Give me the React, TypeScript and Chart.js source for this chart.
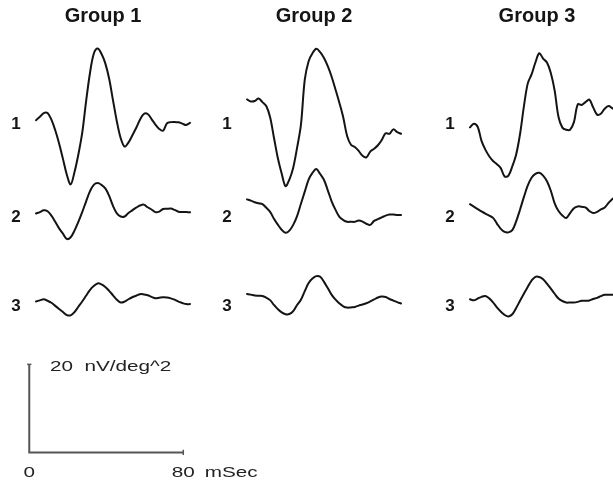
import { useEffect, useRef } from "react";
import { Chart, registerables } from "chart.js";

Chart.register(...registerables);

// ---- data ----
const TIME_MS = [0, 2, 4, 6, 8, 10, 12, 14, 16, 18, 20, 22, 24, 26, 28, 30, 32, 34, 36, 38, 40, 42, 44, 46, 48, 50, 52, 54, 56, 58, 60, 62, 64, 66, 68, 70, 72, 74, 76, 78, 80];
const GROUPS = ["Group 1", "Group 2", "Group 3"];
const ROWS = ["1", "2", "3"];

// nV/deg^2, relative to each row's baseline
const G1_R1 = [0, 0.75, 1.6, 1.6, 0.1, -2.3, -5.3, -8.8, -12.4, -14.6, -11.8, -7.8, -2.9, 4.2, 10.6, 15.1, 16.3, 15.1, 12.9, 9.4, 4.5, -0.3, -4.1, -6.0, -5.1, -3.5, -1.8, 0.1, 1.4, 1.4, 0.25, -1.0, -2.0, -2.4, -0.75, -0.45, -0.4, -0.5, -0.8, -1.1, -0.6];
const G1_R2 = [-0.1, 0.2, 0.6, 0.4, -0.6, -2.0, -3.5, -4.7, -5.9, -5.5, -4.0, -2.0, 0.2, 2.6, 4.9, 6.4, 6.8, 6.4, 5.6, 3.9, 1.6, -0.1, -0.8, -0.8, 0, 0.6, 1.2, 1.7, 1.9, 1.3, 0.8, 0.2, 0.3, 0.9, 0.95, 1.0, 0.7, 0.3, 0.25, 0.2, 0.15];
const G1_R3 = [0.1, 0.35, 0.6, 0.25, -0.2, -0.9, -1.6, -2.3, -3.0, -3.05, -2.3, -1.1, 0.1, 1.4, 2.7, 3.6, 4.2, 4.0, 3.4, 2.5, 1.5, 0.5, -0.15, 0.05, 0.6, 1.05, 1.4, 1.75, 1.7, 1.5, 1.15, 0.85, 0.95, 1.05, 1.0, 0.8, 0.5, 0.05, -0.25, -0.5, -0.5];
const G2_R1 = [4.7, 4.25, 4.35, 4.9, 4.1, 3.2, 0.65, -4.0, -8.6, -12.1, -15.0, -13.5, -10.8, -6.3, -1.1, 9.2, 13.4, 15.2, 16.2, 15.45, 14.1, 12.2, 9.8, 6.9, 3.9, 0.6, -3.6, -5.6, -6.1, -7.0, -8.1, -8.45, -7.15, -6.5, -5.7, -4.5, -3.0, -3.1, -2.1, -2.7, -3.1];
const G2_R2 = [3.1, 2.8, 2.45, 2.2, 2.0, 1.2, 0.25, -1.3, -2.65, -3.8, -4.5, -4.0, -2.7, -0.7, 2.1, 4.85, 7.6, 9.1, 10.0, 8.85, 7.5, 5.1, 2.6, 0.7, -0.9, -1.6, -2.0, -2.0, -2.0, -1.7, -1.95, -2.45, -2.7, -1.8, -1.4, -1.0, -0.6, -0.35, -0.35, -0.45, -0.45];
const G2_R3 = [1.8, 1.65, 1.45, 1.4, 1.35, 0.95, 0.4, -0.7, -1.65, -2.4, -2.8, -2.75, -2.1, -0.7, 0.5, 2.45, 4.3, 5.3, 5.85, 5.7, 4.55, 3.1, 1.6, 0.5, -0.35, -1.0, -1.3, -1.25, -1.15, -0.85, -0.6, -0.3, 0.1, 0.55, 1.0, 1.2, 1.1, 0.65, 0.3, -0.05, -0.35];
const G3_R1 = [-1.65, -0.8, -1.5, -4.7, -6.7, -8.2, -9.3, -10.0, -10.9, -12.8, -12.6, -10.5, -7.8, -3.2, 3.05, 8.3, 10.4, 13.1, 15.2, 14.0, 13.1, 10.7, 6.7, 0.7, -1.7, -2.2, -2.2, -0.45, 3.6, 3.45, 4.1, 4.65, 2.9, 1.25, 1.45, 2.6, 3.2, 2.7, 2.3, 2.0, 2.0];
const G3_R2 = [2.0, 1.45, 0.9, 0.35, -0.15, -0.6, -1.1, -2.4, -3.6, -4.3, -4.4, -3.9, -1.9, 0.75, 3.6, 6.2, 8.0, 8.9, 9.15, 8.5, 7.2, 5.05, 2.2, 0.45, -0.55, -1.15, -0.05, 1.1, 1.5, 1.4, 1.3, 0.45, 0, 0.25, 0.8, 1.25, 2.3, 3.2, 3.8, 4.2, 4.5];
const G3_R3 = [0.6, 0.35, 0.75, 1.15, 1.35, 0.8, -0.1, -1.25, -2.2, -2.95, -3.3, -2.8, -1.4, 0.25, 1.85, 3.4, 4.85, 5.7, 5.65, 5.15, 4.15, 3.0, 1.85, 0.75, 0.2, -0.15, -0.15, -0.15, 0, 0.25, 0.25, 0.3, 0.65, 0.9, 1.3, 1.6, 1.6, 1.6, 1.6, 1.5, 1.5];

const TRACES = [
  [G1_R1, G1_R2, G1_R3],
  [G2_R1, G2_R2, G2_R3],
  [G3_R1, G3_R2, G3_R3],
];

const SCALE_BAR_UNITS = 20;
const SCALE_BAR_MS = 80;
const SCALE_Y_LABEL = "20  nV/deg^2";
const SCALE_X_START = "0";
const SCALE_X_END = "80";
const SCALE_X_UNIT = "mSec";

// ---- layout (axis units: ms horizontally, nV/deg^2 vertically) ----
const X_MIN = -15.2;
const X_MAX = 303.2;
const Y_MIN = -6.5;
const Y_MAX = 102.8;
const GROUP_X = [3.5, 113.1, 228.9];
const ROW_Y = [75.5, 54.4, 34.2];
const TITLE_DX = 34.8;
const TITLE_Y = 97.8;
const ROW_LABEL_DX = -10.4;
const ROW_LABEL_DY = -2.1;

const textPlugin = {
  id: "figureText",
  afterDatasetsDraw(chart: any) {
    const { ctx } = chart;
    const xs = chart.scales.x;
    const ys = chart.scales.y;
    const px = (v: number) => xs.getPixelForValue(v);
    const py = (v: number) => ys.getPixelForValue(v);
    ctx.save();
    ctx.fillStyle = "#151515";
    ctx.textBaseline = "alphabetic";

    // group titles
    ctx.textAlign = "center";
    ctx.font = 'bold 20px "Liberation Sans", Arial, Helvetica, sans-serif';
    GROUPS.forEach((g, gi) => {
      ctx.fillText(g, px(GROUP_X[gi] + TITLE_DX), py(TITLE_Y));
    });

    // row labels
    ctx.font = 'bold 17px "Liberation Sans", Arial, Helvetica, sans-serif';
    GROUPS.forEach((_, gi) => {
      ROWS.forEach((r, ri) => {
        ctx.fillText(r, px(GROUP_X[gi] + ROW_LABEL_DX), py(ROW_Y[ri] + ROW_LABEL_DY));
      });
    });

    // scale bar labels (wide lettering)
    ctx.fillStyle = "#222";
    ctx.font = '15px "Liberation Sans", Arial, Helvetica, sans-serif';
    const stretch = 1.38;
    const drawWide = (txt: string, x: number, y: number, align: "left" | "center") => {
      ctx.save();
      ctx.translate(x, y);
      ctx.scale(stretch, 1);
      ctx.textAlign = align;
      ctx.fillText(txt, 0, 0);
      ctx.restore();
    };
    drawWide(SCALE_Y_LABEL, px(10.75), py(18.5), "left");
    drawWide(SCALE_X_START, px(0), py(-5.5), "center");
    drawWide(SCALE_X_END, px(SCALE_BAR_MS), py(-5.5), "center");
    const w80 = ctx.measureText(SCALE_X_END).width * stretch;
    drawWide(SCALE_X_UNIT, px(SCALE_BAR_MS) + w80 / 2 + 10, py(-5.5), "left");
    ctx.restore();
  },
};

export default function App() {
  const ref = useRef<HTMLCanvasElement>(null);

  useEffect(() => {
    const canvas = ref.current;
    if (!canvas) return;
    const datasets: any[] = [];
    TRACES.forEach((group, gi) => {
      group.forEach((vals, ri) => {
        datasets.push({
          label: `${GROUPS[gi]} - ${ROWS[ri]}`,
          data: vals.map((v, k) => ({ x: GROUP_X[gi] + TIME_MS[k], y: ROW_Y[ri] + v })),
          borderColor: "#141414",
          borderWidth: 2,
          pointRadius: 0,
          tension: 0.35,
          fill: false,
          borderJoinStyle: "round",
          borderCapStyle: "round",
        });
      });
    });
    const barStyle = {
      borderColor: "#555",
      borderWidth: 2,
      pointRadius: 0,
      tension: 0,
      fill: false,
    };
    datasets.push({
      label: "scale bar",
      data: [
        { x: 0, y: SCALE_BAR_UNITS },
        { x: 0, y: 0 },
        { x: SCALE_BAR_MS, y: 0 },
      ],
      ...barStyle,
    });
    datasets.push({
      label: "scale tick y",
      data: [
        { x: -1.1, y: SCALE_BAR_UNITS },
        { x: 1.1, y: SCALE_BAR_UNITS },
      ],
      ...barStyle,
      borderWidth: 1.5,
    });
    datasets.push({
      label: "scale tick x",
      data: [
        { x: SCALE_BAR_MS, y: -0.6 },
        { x: SCALE_BAR_MS, y: 0.6 },
      ],
      ...barStyle,
      borderWidth: 1.5,
    });

    const chart = new Chart(canvas, {
      type: "line",
      data: { datasets },
      options: {
        animation: false,
        responsive: false,
        devicePixelRatio: 1,
        events: [],
        layout: { padding: 0 },
        scales: {
          x: { type: "linear", display: false, min: X_MIN, max: X_MAX },
          y: { type: "linear", display: false, min: Y_MIN, max: Y_MAX },
        },
        plugins: {
          legend: { display: false },
          tooltip: { enabled: false },
          title: { display: false },
        },
      },
      plugins: [textPlugin],
    } as any);
    return () => chart.destroy();
  }, []);

  return (
    <div style={{ position: "absolute", left: 0, top: 0, width: 613, height: 481, background: "#fff" }}>
      <canvas ref={ref} width={613} height={481} style={{ display: "block" }} />
    </div>
  );
}
